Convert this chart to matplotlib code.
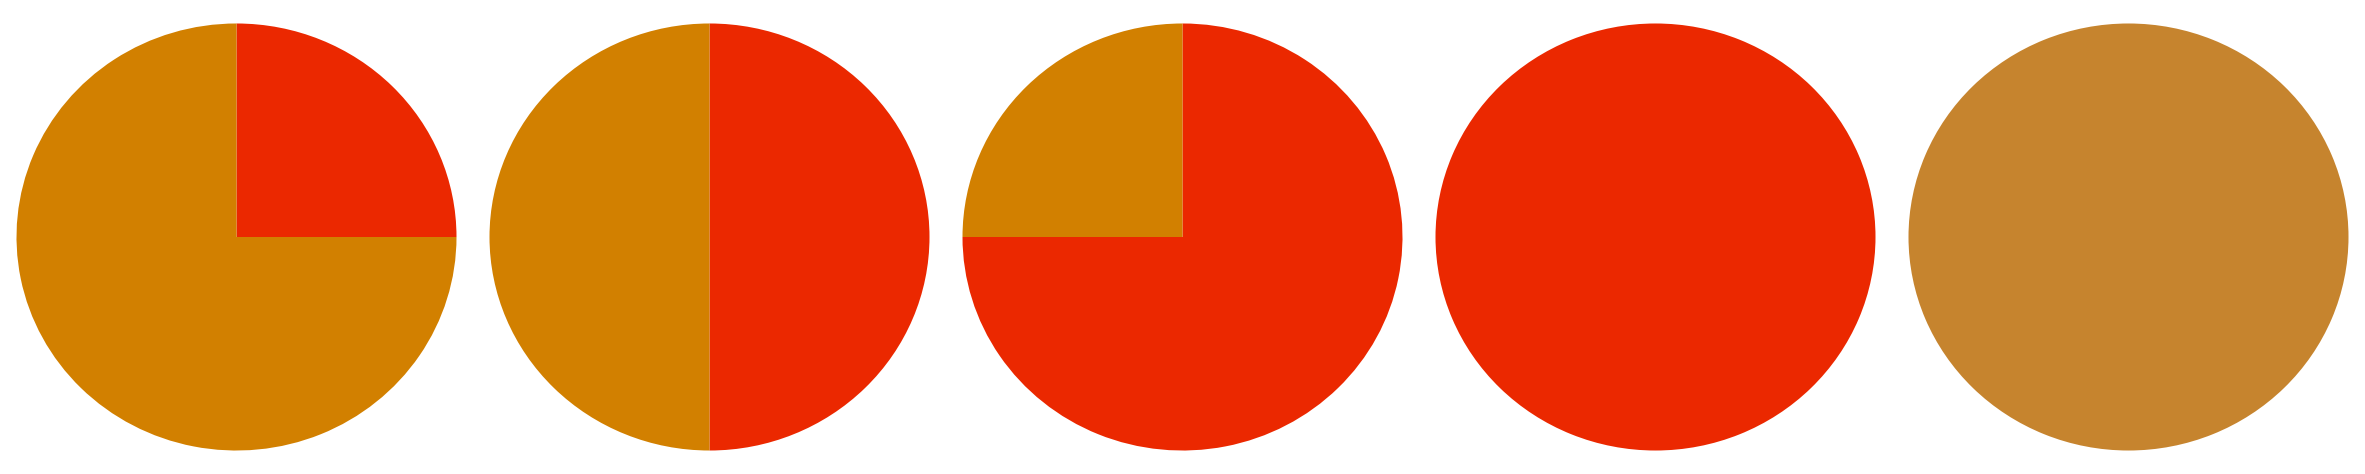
import matplotlib
matplotlib.use('Agg')
import matplotlib.pyplot as plt

# share of each circle filled in red (percent), drawn clockwise from 12 o'clock
red_share = [25, 50, 75, 100, 0]
rest_colors = ['#D28000', '#D28000', '#D28000', '#D28000', '#C6842E']
red_color = '#EB2800'

fig = plt.figure(figsize=(23.65, 4.74), dpi=100)
n = len(red_share)
for i in range(n):
    ax = fig.add_axes([i / n, 0, 1 / n, 1])
    vals = [red_share[i], 100 - red_share[i]]
    cols = [red_color, rest_colors[i]]
    # drop empty wedges
    keep = [k for k in range(2) if vals[k] > 0]
    ax.pie([vals[k] for k in keep], colors=[cols[k] for k in keep],
           startangle=90, counterclock=False, radius=1,
           wedgeprops=dict(linewidth=0))
    ax.set_aspect('auto')
    ax.set_xlim(-1.075, 1.075)
    ax.set_ylim(-1.11, 1.11)
    ax.axis('off')

plt.savefig('out.png', dpi=100, facecolor='white')
